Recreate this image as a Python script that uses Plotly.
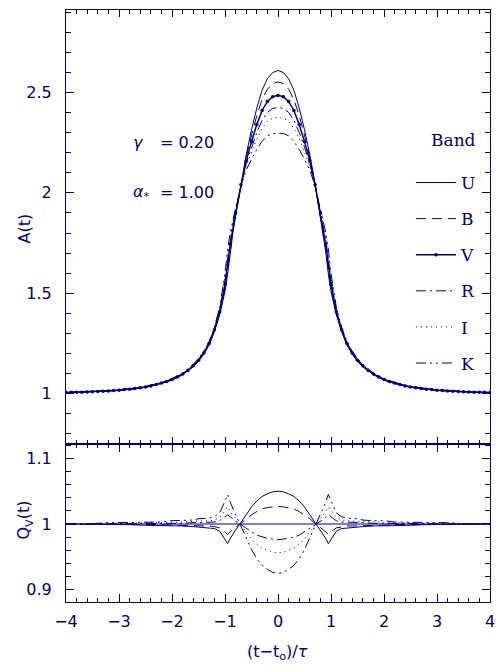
import plotly.graph_objects as go

NAVY = "#000080"

# ---- fine grid for the V band (reference band) ----
t_v = [-4.0, -3.9, -3.8, -3.7, -3.6, -3.5, -3.4, -3.3, -3.2, -3.1,
       -3.0, -2.9, -2.8, -2.7, -2.6, -2.5, -2.4, -2.3, -2.2, -2.1,
       -2.0, -1.9, -1.8, -1.7, -1.6, -1.5, -1.4, -1.3, -1.2, -1.1,
       -1.0, -0.9, -0.8, -0.7, -0.6, -0.5, -0.4, -0.3, -0.2, -0.1,
       0.0,
       0.1, 0.2, 0.3, 0.4, 0.5, 0.6, 0.7, 0.8, 0.9, 1.0,
       1.1, 1.2, 1.3, 1.4, 1.5, 1.6, 1.7, 1.8, 1.9, 2.0,
       2.1, 2.2, 2.3, 2.4, 2.5, 2.6, 2.7, 2.8, 2.9, 3.0,
       3.1, 3.2, 3.3, 3.4, 3.5, 3.6, 3.7, 3.8, 3.9, 4.0]

a_v = [1.006, 1.007, 1.007, 1.008, 1.009, 1.010, 1.011, 1.013, 1.014, 1.016,
       1.018, 1.021, 1.023, 1.026, 1.030, 1.034, 1.039, 1.046, 1.053, 1.061,
       1.071, 1.083, 1.098, 1.116, 1.139, 1.167, 1.203, 1.250, 1.318, 1.408,
       1.545, 1.745, 1.900, 2.040, 2.160, 2.255, 2.340, 2.410, 2.455, 2.478,
       2.485,
       2.478, 2.455, 2.410, 2.340, 2.255, 2.160, 2.040, 1.900, 1.745, 1.545,
       1.408, 1.318, 1.250, 1.203, 1.167, 1.139, 1.116, 1.098, 1.083, 1.071,
       1.061, 1.053, 1.046, 1.039, 1.034, 1.030, 1.026, 1.023, 1.021, 1.018,
       1.016, 1.014, 1.013, 1.011, 1.010, 1.009, 1.008, 1.007, 1.007, 1.006]

# ---- grid for the other bands ----
t_b = [-4.0, -3.6, -3.2, -2.8, -2.5, -2.2, -2.0, -1.8, -1.6, -1.5,
       -1.4, -1.3, -1.2, -1.1, -1.0, -0.95, -0.9, -0.85, -0.8, -0.7,
       -0.6, -0.5, -0.4, -0.3, -0.2, -0.1, 0.0,
       0.1, 0.2, 0.3, 0.4, 0.5, 0.6, 0.7, 0.8, 0.85, 0.9,
       0.95, 1.0, 1.1, 1.2, 1.3, 1.4, 1.5, 1.6, 1.8, 2.0,
       2.2, 2.5, 2.8, 3.2, 3.6, 4.0]

a_u = [1.006, 1.009, 1.013, 1.022, 1.032, 1.051, 1.068, 1.095, 1.134, 1.161,
       1.197, 1.243, 1.309, 1.393, 1.509, 1.596, 1.707, 1.803, 1.883, 2.044,
       2.190, 2.314, 2.422, 2.511, 2.568, 2.599, 2.609,
       2.599, 2.568, 2.511, 2.422, 2.314, 2.190, 2.044, 1.883, 1.803, 1.707,
       1.596, 1.509, 1.393, 1.309, 1.243, 1.197, 1.161, 1.134, 1.095, 1.068,
       1.051, 1.032, 1.022, 1.013, 1.009, 1.006]

a_b = [1.006, 1.009, 1.013, 1.022, 1.033, 1.052, 1.069, 1.096, 1.136, 1.164,
       1.200, 1.246, 1.313, 1.400, 1.526, 1.618, 1.724, 1.815, 1.891, 2.042,
       2.176, 2.287, 2.384, 2.465, 2.516, 2.544, 2.552,
       2.544, 2.516, 2.465, 2.384, 2.287, 2.176, 2.042, 1.891, 1.815, 1.724,
       1.618, 1.526, 1.400, 1.313, 1.246, 1.200, 1.164, 1.136, 1.096, 1.069,
       1.052, 1.033, 1.022, 1.013, 1.009, 1.006]

a_r = [1.006, 1.009, 1.014, 1.024, 1.035, 1.054, 1.072, 1.100, 1.141, 1.170,
       1.206, 1.254, 1.322, 1.415, 1.562, 1.669, 1.763, 1.843, 1.908, 2.038,
       2.146, 2.227, 2.301, 2.361, 2.401, 2.420, 2.425,
       2.420, 2.401, 2.361, 2.301, 2.227, 2.146, 2.038, 1.908, 1.843, 1.763,
       1.669, 1.562, 1.415, 1.322, 1.254, 1.206, 1.170, 1.141, 1.100, 1.072,
       1.054, 1.035, 1.024, 1.014, 1.009, 1.006]

a_i = [1.006, 1.009, 1.015, 1.024, 1.036, 1.055, 1.074, 1.101, 1.143, 1.172,
       1.208, 1.257, 1.326, 1.422, 1.576, 1.688, 1.779, 1.854, 1.915, 2.036,
       2.133, 2.203, 2.268, 2.321, 2.356, 2.371, 2.376,
       2.371, 2.356, 2.321, 2.268, 2.203, 2.133, 2.036, 1.915, 1.854, 1.779,
       1.688, 1.576, 1.422, 1.326, 1.257, 1.208, 1.172, 1.143, 1.101, 1.074,
       1.055, 1.036, 1.024, 1.015, 1.009, 1.006]

a_k = [1.006, 1.009, 1.016, 1.025, 1.037, 1.056, 1.076, 1.103, 1.146, 1.176,
       1.212, 1.261, 1.332, 1.431, 1.599, 1.720, 1.803, 1.872, 1.926, 2.034,
       2.114, 2.166, 2.216, 2.257, 2.284, 2.295, 2.297,
       2.295, 2.284, 2.257, 2.216, 2.166, 2.114, 2.034, 1.926, 1.872, 1.803,
       1.720, 1.599, 1.431, 1.332, 1.261, 1.212, 1.176, 1.146, 1.103, 1.076,
       1.056, 1.037, 1.025, 1.016, 1.009, 1.006]

# ---- ratio to V band, Q_V(t) ----
q_u = [1.000, 1.000, 0.999, 0.999, 0.998, 0.998, 0.997, 0.997, 0.996, 0.995,
       0.995, 0.994, 0.993, 0.989, 0.977, 0.970, 0.978, 0.985, 0.991, 1.002,
       1.014, 1.026, 1.035, 1.042, 1.046, 1.049, 1.050,
       1.049, 1.046, 1.042, 1.035, 1.026, 1.014, 1.002, 0.991, 0.985, 0.978,
       0.970, 0.977, 0.989, 0.993, 0.994, 0.995, 0.995, 0.996, 0.997, 0.997,
       0.998, 0.998, 0.999, 0.999, 1.000, 1.000]

q_b = [1.000, 1.000, 1.000, 0.999, 0.999, 0.999, 0.998, 0.998, 0.998, 0.997,
       0.997, 0.997, 0.996, 0.994, 0.988, 0.984, 0.988, 0.992, 0.995, 1.001,
       1.008, 1.014, 1.019, 1.023, 1.025, 1.026, 1.027,
       1.026, 1.025, 1.023, 1.019, 1.014, 1.008, 1.001, 0.995, 0.992, 0.988,
       0.984, 0.988, 0.994, 0.996, 0.997, 0.997, 0.997, 0.998, 0.998, 0.998,
       0.999, 0.999, 0.999, 1.000, 1.000, 1.000]

q_v = [1.000, 1.000, 1.000, 1.000, 1.000, 1.000, 1.000, 1.000, 1.000, 1.000,
       1.000, 1.000, 1.000, 1.000, 1.000, 1.000, 1.000, 1.000, 1.000, 1.000,
       1.000, 1.000, 1.000, 1.000, 1.000, 1.000, 1.000,
       1.000, 1.000, 1.000, 1.000, 1.000, 1.000, 1.000, 1.000, 1.000, 1.000,
       1.000, 1.000, 1.000, 1.000, 1.000, 1.000, 1.000, 1.000, 1.000, 1.000,
       1.000, 1.000, 1.000, 1.000, 1.000, 1.000]

q_r = [1.000, 1.000, 1.000, 1.001, 1.001, 1.001, 1.001, 1.001, 1.002, 1.002,
       1.002, 1.003, 1.003, 1.005, 1.011, 1.014, 1.011, 1.007, 1.004, 0.999,
       0.993, 0.988, 0.983, 0.980, 0.978, 0.977, 0.976,
       0.977, 0.978, 0.980, 0.983, 0.988, 0.993, 0.999, 1.004, 1.007, 1.011,
       1.014, 1.011, 1.005, 1.003, 1.003, 1.002, 1.002, 1.002, 1.001, 1.001,
       1.001, 1.001, 1.001, 1.000, 1.000, 1.000]

q_i = [1.000, 1.000, 1.001, 1.001, 1.002, 1.002, 1.003, 1.003, 1.004, 1.004,
       1.004, 1.005, 1.006, 1.010, 1.020, 1.026, 1.019, 1.013, 1.008, 0.998,
       0.988, 0.977, 0.969, 0.963, 0.960, 0.957, 0.956,
       0.957, 0.960, 0.963, 0.969, 0.977, 0.988, 0.998, 1.008, 1.013, 1.019,
       1.026, 1.020, 1.010, 1.006, 1.005, 1.004, 1.004, 1.004, 1.003, 1.003,
       1.002, 1.002, 1.001, 1.001, 1.000, 1.000]

q_k = [1.000, 1.000, 1.002, 1.002, 1.003, 1.003, 1.005, 1.005, 1.006, 1.008,
       1.008, 1.009, 1.011, 1.017, 1.035, 1.045, 1.033, 1.023, 1.014, 0.997,
       0.979, 0.961, 0.947, 0.937, 0.931, 0.926, 0.925,
       0.926, 0.931, 0.937, 0.947, 0.961, 0.979, 0.997, 1.014, 1.023, 1.033,
       1.045, 1.035, 1.017, 1.011, 1.009, 1.008, 1.008, 1.006, 1.005, 1.005,
       1.003, 1.003, 1.002, 1.002, 1.000, 1.000]

bands = ["U", "B", "V", "R", "I", "K"]
dashes = {"U": "solid", "B": "10px,6px", "V": "solid",
          "R": "10px,4px,2px,4px", "I": "1px,4px",
          "K": "10px,4px,2px,4px,2px,4px"}

top = {"U": (t_b, a_u), "B": (t_b, a_b), "V": (t_v, a_v),
       "R": (t_b, a_r), "I": (t_b, a_i), "K": (t_b, a_k)}
bot = {"U": q_u, "B": q_b, "V": q_v, "R": q_r, "I": q_i, "K": q_k}

fig = go.Figure()
for b in bands:
    xs, ys = top[b]
    if b == "V":
        fig.add_trace(go.Scatter(x=xs, y=ys, name=b, mode="lines+markers",
                                 line=dict(color=NAVY, width=1.5),
                                 marker=dict(color=NAVY, size=3.5),
                                 legendgroup=b, xaxis="x", yaxis="y"))
    else:
        fig.add_trace(go.Scatter(x=xs, y=ys, name=b, mode="lines",
                                 line=dict(color=NAVY, width=1, dash=dashes[b]),
                                 legendgroup=b, xaxis="x", yaxis="y"))

for b in bands:
    fig.add_trace(go.Scatter(x=t_b, y=bot[b], name=b, mode="lines",
                             line=dict(color=NAVY, width=1.2 if b == "V" else 1,
                                       dash=dashes[b]),
                             showlegend=False, xaxis="x2", yaxis="y2"))

tickfont = dict(family="DejaVu Sans", size=16, color=NAVY)
common = dict(showline=True, linecolor=NAVY, linewidth=1.2, mirror="ticks",
              ticks="inside", tickcolor=NAVY, tickwidth=1, showgrid=False,
              zeroline=False, tickfont=tickfont, ticklabeloverflow="allow")

split = 0.2669
fig.update_layout(
    width=499, height=670,
    margin=dict(l=66, r=4, t=10, b=68),
    paper_bgcolor="white", plot_bgcolor="white",
    font=dict(family="DejaVu Sans", size=16, color=NAVY),
    xaxis=dict(domain=[0, 1], anchor="y", range=[-4, 4], tick0=0, dtick=1,
               ticklen=7, showticklabels=False,
               minor=dict(dtick=0.2, ticklen=4, ticks="inside", tickcolor=NAVY, showgrid=False),
               **common),
    yaxis=dict(domain=[split, 1], anchor="x", range=[0.75, 2.91], tick0=1, dtick=0.5,
               ticklen=8, ticklabelstandoff=10,
               minor=dict(dtick=0.1, ticklen=5, ticks="inside", tickcolor=NAVY, showgrid=False),
               **common),
    xaxis2=dict(domain=[0, 1], anchor="y2", range=[-4, 4], tick0=0, dtick=1,
                matches="x", ticklen=8, ticklabelstandoff=5,
                minor=dict(dtick=0.2, ticklen=4, ticks="inside", tickcolor=NAVY, showgrid=False),
                **common),
    yaxis2=dict(domain=[0, split], anchor="x2", range=[0.881, 1.122], tick0=1, dtick=0.1,
                ticklen=8, ticklabelstandoff=10,
                minor=dict(dtick=0.02, ticklen=5, ticks="inside", tickcolor=NAVY, showgrid=False),
                **common),
    legend=dict(x=0.8135, y=0.7382, xanchor="left", yanchor="top",
                bgcolor="rgba(0,0,0,0)", tracegroupgap=11, itemwidth=40,
                font=dict(family="DejaVu Serif", size=17, color=NAVY)),
    showlegend=True,
)

ann = [
    dict(x=-2.78, y=2.2525, xref="x", yref="y", text="<i>γ</i>", xanchor="left"),
    dict(x=-2.26, y=2.2525, xref="x", yref="y", text="= 0.20", xanchor="left"),
    dict(x=-2.78, y=2.0035, xref="x", yref="y", text="<i>α</i><sub>*</sub>", xanchor="left"),
    dict(x=-2.26, y=2.0035, xref="x", yref="y", text="= 1.00", xanchor="left"),
    dict(x=(483 - 66) / 429, y=(602 - 140) / 592, xref="paper", yref="paper",
         text="Band", xanchor="right", yanchor="middle",
         font=dict(family="DejaVu Serif", size=17, color=NAVY)),
    dict(x=-0.0979, y=0.6318, xref="paper", yref="paper", text="A(t)", textangle=-90,
         xanchor="center", yanchor="middle"),
    dict(x=-0.0979, y=0.1385, xref="paper", yref="paper", text="Q<sub>V</sub>(t)", textangle=-90,
         xanchor="center", yanchor="middle"),
    dict(x=0.4988, y=-0.0861, xref="paper", yref="paper",
         text="(t\u2212t<sub>o</sub>)/<i>τ</i>", xanchor="center", yanchor="middle"),
]
for a in ann:
    a.setdefault("font", dict(family="DejaVu Sans", size=16, color=NAVY))
    a.update(showarrow=False)
fig.update_layout(annotations=ann)

fig.write_html("out.html")
